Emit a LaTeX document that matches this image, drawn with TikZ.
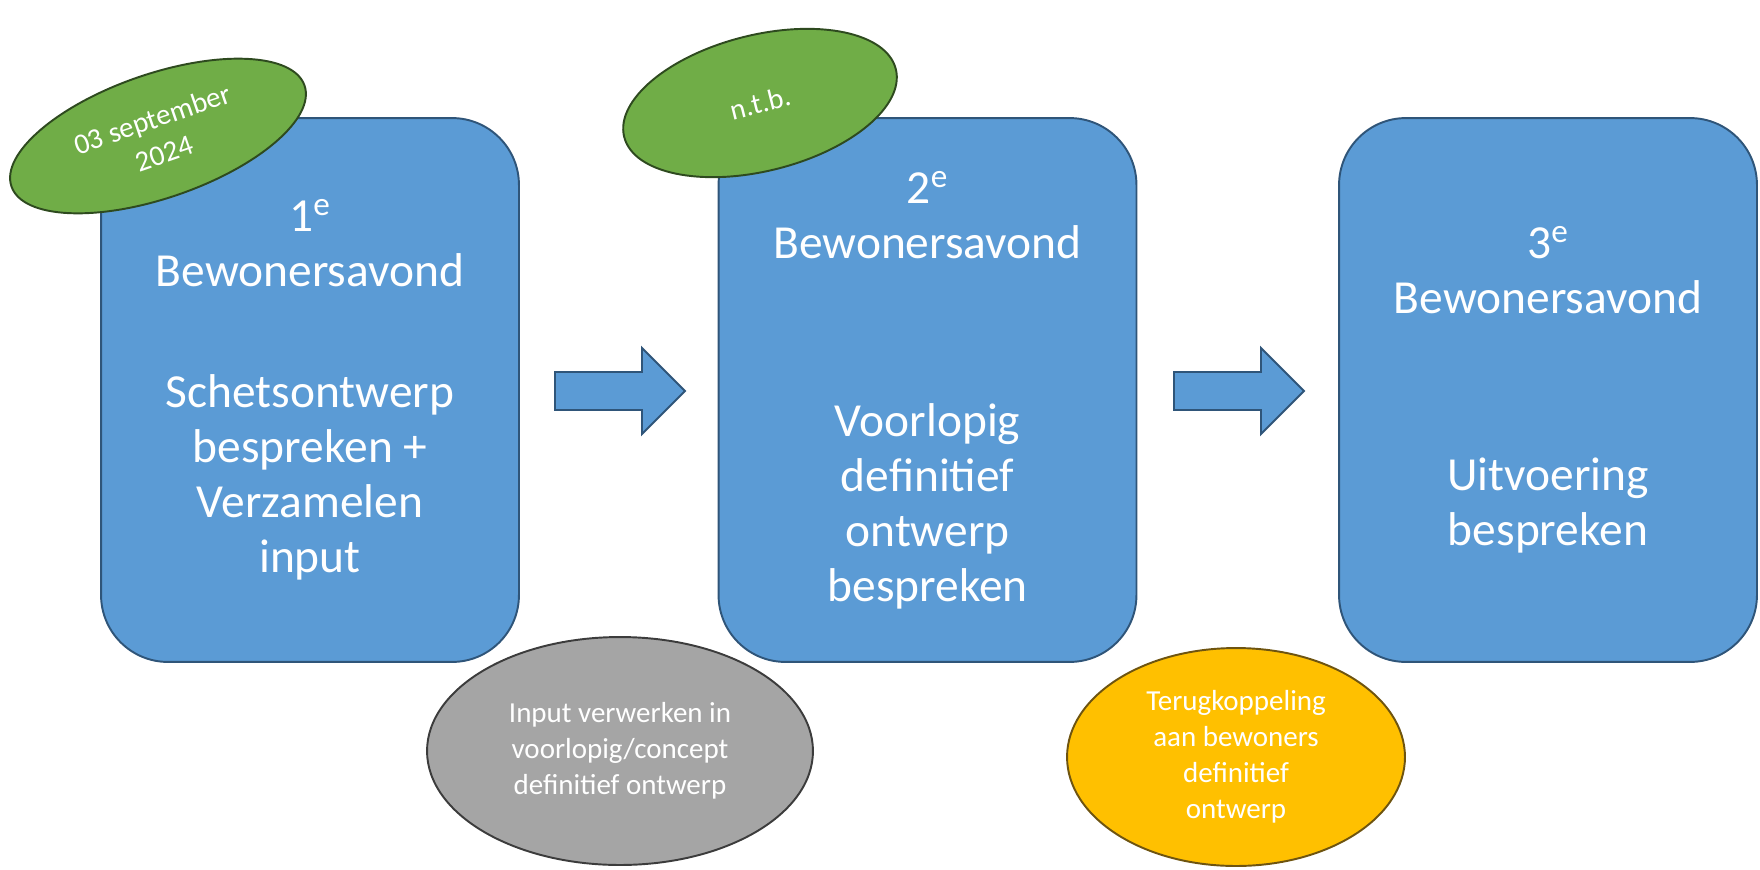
\documentclass[tikz,border=0pt]{standalone}
\usepackage{fontspec}
\setmainfont{Carlito}
\usetikzlibrary{shapes.geometric}
\definecolor{avondblauw}{HTML}{5B9BD5}
\definecolor{avondlijn}{HTML}{2F5579}
\definecolor{datumgroen}{HTML}{70AD47}
\definecolor{datumlijn}{HTML}{2E4A1F}
\definecolor{verwerkgrijs}{HTML}{A5A5A5}
\definecolor{verwerklijn}{HTML}{3C3C3C}
\definecolor{terugoranje}{HTML}{FFC000}
\definecolor{teruglijn}{HTML}{6E5410}
\tikzset{
    avond/.style={rectangle, rounded corners=1.34cm, draw=avondlijn, fill=avondblauw, line width=1.1pt,
        minimum width=8.36cm, minimum height=10.88cm, align=center, text=white,
        font=\fontsize{27}{31.3}\selectfont},
    pijl/.style={draw=avondlijn, fill=avondblauw, line width=1.1pt, line join=miter},
    datum/.style={ellipse, draw=datumlijn, fill=datumgroen, line width=1.1pt, inner sep=0pt,
        align=center, text=white, font=\fontsize{16.5}{20.5}\selectfont},
    tussenstap/.style={ellipse, line width=1.1pt, inner sep=0pt, align=center, text=white,
        font=\fontsize{16.5}{20.5}\selectfont},
}
\begin{document}
\begin{tikzpicture}[x=0.02cm, y=-0.02cm]
    \useasboundingbox (0,0) rectangle (1760,869);
    \node[avond] (avond1) at (310,390) {1\textsuperscript{e}\\Bewonersavond\\[37.6pt]Schetsontwerp\\bespreken +\\Verzamelen\\input};
    \node[avond] (avond2) at (927.5,390) {2\textsuperscript{e}\\Bewonersavond\\[70pt]Voorlopig\\definitief\\ontwerp\\bespreken};
    \node[avond] (avond3) at (1548,390) {3\textsuperscript{e}\\Bewonersavond\\[69.5pt]Uitvoering\\bespreken};
    % blokpijlen tussen de avonden
    \foreach \ax in {555,1174} {
        \draw[pijl] (\ax,372) -- ++(87,0) -- ++(0,-24) -- ++(43,43) -- ++(-43,43) -- ++(0,-24) -- ++(-87,0) -- cycle;
    }
    \node[datum, rotate=19, minimum width=6.2cm, minimum height=2.48cm] (datum1) at (158,136) {03 september\\2024};
    \node[datum, rotate=14, minimum width=5.6cm, minimum height=2.72cm] (datum2) at (760,103) {n.t.b.};
    \node[tussenstap, draw=verwerklijn, fill=verwerkgrijs, minimum width=7.72cm, minimum height=4.56cm] (verwerk) at (620,751) {Input verwerken in\\voorlopig/concept\\definitief ontwerp};
    \node[tussenstap, draw=teruglijn, fill=terugoranje, minimum width=6.76cm, minimum height=4.36cm] (terug) at (1236,757) {Terugkoppeling\\aan bewoners\\definitief\\ontwerp};
\end{tikzpicture}
\end{document}
